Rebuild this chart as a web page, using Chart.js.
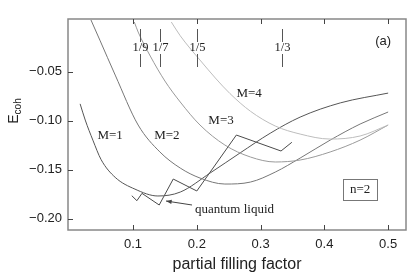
<!DOCTYPE html>
<html>
<head>
<meta charset="utf-8">
<script src="https://cdn.jsdelivr.net/npm/chart.js@4.4.0/dist/chart.umd.min.js"></script>
<style>
  html, body { margin: 0; padding: 0; background: #fff; }
</style>
</head>
<body>
<canvas id="chart" width="412" height="273"></canvas>
<script>
// cohesive energy vs partial filling factor, n=2

var m1X = [0.017, 0.025, 0.037, 0.05, 0.072, 0.103, 0.139, 0.174, 0.221, 0.268, 0.315, 0.362, 0.425, 0.5];
var m1Y = [-0.083, -0.0995, -0.12, -0.14, -0.158, -0.17, -0.177, -0.173, -0.1535, -0.133, -0.113, -0.0965, -0.082, -0.072];

var m2X = [0.034, 0.048, 0.072, 0.108, 0.142, 0.174, 0.205, 0.244, 0.284, 0.323, 0.362, 0.409, 0.456, 0.5];
var m2Y = [0.0026, -0.018, -0.0536, -0.1046, -0.132, -0.1485, -0.1587, -0.1648, -0.1628, -0.1526, -0.1383, -0.12, -0.1036, -0.0913];

var m3X = [0.102, 0.108, 0.127, 0.15, 0.174, 0.205, 0.244, 0.284, 0.323, 0.362, 0.409, 0.456, 0.5];
var m3Y = [0.0005, -0.0097, -0.0342, -0.0597, -0.0811, -0.1046, -0.125, -0.1372, -0.1423, -0.1403, -0.1321, -0.12, -0.1046];

var m4X = [0.16, 0.174, 0.189, 0.205, 0.229, 0.252, 0.284, 0.323, 0.362, 0.409, 0.456, 0.5];
var m4Y = [0.0005, -0.0135, -0.026, -0.0383, -0.0566, -0.0725, -0.0905, -0.1056, -0.1138, -0.1189, -0.1158, -0.1046];

var liquidX = [0.098, 0.106, 0.114, 0.141, 0.163, 0.2, 0.262, 0.332, 0.349];
var liquidY = [-0.1767, -0.1818, -0.1743, -0.1862, -0.1597, -0.1719, -0.1148, -0.1311, -0.1222];

var xTicks = [0.1, 0.2, 0.3, 0.4, 0.5];
var yTicks = [-0.05, -0.10, -0.15, -0.20];

var fracValues = [1 / 9, 1 / 7, 1 / 5, 1 / 3];
var fracLabels = ['1/9', '1/7', '1/5', '1/3'];

var SANS = '"Liberation Sans", Arial, sans-serif';
var SERIF = '"Liberation Serif", "Times New Roman", serif';

function pts(xs, ys) {
    return xs.map(function (x, i) { return { x: x, y: ys[i] }; });
}

function curve(label, xs, ys, color, smooth) {
    return {
        label: label,
        data: pts(xs, ys),
        showLine: true,
        borderColor: color,
        borderWidth: 1,
        pointRadius: 0,
        fill: false,
        cubicInterpolationMode: smooth ? 'monotone' : 'default',
        tension: 0
    };
}

// text in the plot, placed in data units
var notes = [
    { text: 'M=1', x: 0.064, y: -0.1158 },
    { text: 'M=2', x: 0.153, y: -0.1158 },
    { text: 'M=3', x: 0.238, y: -0.1005 },
    { text: 'M=4', x: 0.282, y: -0.073 }
];

var extras = {
    id: 'extras',
    afterDraw: function (chart) {
        var c = chart.ctx, a = chart.chartArea;
        var xs = chart.scales.x, ys = chart.scales.y;
        c.save();

        // frame
        c.strokeStyle = '#888';
        c.lineWidth = 1.5;
        c.strokeRect(a.left, a.top, a.right - a.left, a.bottom - a.top);

        // inward ticks
        c.strokeStyle = '#444';
        c.lineWidth = 1;
        c.beginPath();
        xTicks.forEach(function (v) {
            var px = Math.round(xs.getPixelForValue(v)) + 0.5;
            c.moveTo(px, a.bottom); c.lineTo(px, a.bottom - 5);
            c.moveTo(px, a.top); c.lineTo(px, a.top + 5);
        });
        yTicks.forEach(function (v) {
            var py = Math.round(ys.getPixelForValue(v)) + 0.5;
            c.moveTo(a.left, py); c.lineTo(a.left + 5, py);
        });
        c.stroke();

        // fraction marks
        c.strokeStyle = '#555';
        c.fillStyle = '#222';
        c.font = '12.5px ' + SERIF;
        c.textAlign = 'center';
        c.textBaseline = 'middle';
        fracValues.forEach(function (v, i) {
            var px = Math.round(xs.getPixelForValue(v)) + 0.5;
            c.beginPath();
            c.moveTo(px, a.top + 10); c.lineTo(px, a.top + 23);
            c.moveTo(px, a.top + 35); c.lineTo(px, a.top + 48);
            c.stroke();
            c.fillText(fracLabels[i], px, a.top + 29);
        });

        // M labels
        c.font = '13px ' + SERIF;
        notes.forEach(function (n) {
            c.fillText(n.text, xs.getPixelForValue(n.x), ys.getPixelForValue(n.y));
        });

        // quantum liquid + arrow
        c.textAlign = 'left';
        c.textBaseline = 'alphabetic';
        c.fillText('quantum liquid', xs.getPixelForValue(0.197), ys.getPixelForValue(-0.1945));
        var ax0 = xs.getPixelForValue(0.1925), ay0 = ys.getPixelForValue(-0.1862);
        var ax1 = xs.getPixelForValue(0.1517), ay1 = ys.getPixelForValue(-0.1821);
        c.strokeStyle = '#444';
        c.beginPath(); c.moveTo(ax0, ay0); c.lineTo(ax1, ay1); c.stroke();
        var ang = Math.atan2(ay1 - ay0, ax1 - ax0);
        c.fillStyle = '#444';
        c.beginPath();
        c.moveTo(ax1, ay1);
        c.lineTo(ax1 - 6 * Math.cos(ang - 0.35), ay1 - 6 * Math.sin(ang - 0.35));
        c.lineTo(ax1 - 6 * Math.cos(ang + 0.35), ay1 - 6 * Math.sin(ang + 0.35));
        c.closePath();
        c.fill();

        // n=2 box
        var bx = xs.getPixelForValue(0.4561), by = ys.getPixelForValue(-0.1699);
        c.strokeStyle = '#777';
        c.strokeRect(Math.round(bx - 17) + 0.5, Math.round(by - 10) + 0.5, 34, 21);
        c.fillStyle = '#222';
        c.textAlign = 'center';
        c.textBaseline = 'middle';
        c.fillText('n=2', bx, by + 1);

        // panel tag
        c.font = '13px ' + SANS;
        c.fillText('(a)', xs.getPixelForValue(0.4921), ys.getPixelForValue(-0.0189));

        // y title with subscript
        c.translate(13, 111);
        c.rotate(-Math.PI / 2);
        c.textAlign = 'left';
        c.textBaseline = 'alphabetic';
        c.font = '14px ' + SANS;
        var wE = c.measureText('E').width;
        c.font = '10px ' + SANS;
        var wS = c.measureText('coh').width;
        var s = -(wE + wS) / 2;
        c.font = '14px ' + SANS;
        c.fillText('E', s, 5);
        c.font = '10px ' + SANS;
        c.fillText('coh', s + wE, 8);

        c.restore();
    }
};

var ctx = document.getElementById('chart').getContext('2d');
var chart = new Chart(ctx, {
    type: 'scatter',
    data: {
        datasets: [
            curve('M=4', m4X, m4Y, '#bdbdbd', true),
            curve('M=3', m3X, m3Y, '#9a9a9a', true),
            curve('M=2', m2X, m2Y, '#777777', true),
            curve('M=1', m1X, m1Y, '#555555', true),
            curve('quantum liquid', liquidX, liquidY, '#4a4a4a', false)
        ]
    },
    options: {
        responsive: false,
        animation: false,
        layout: { padding: { top: 19, right: 6, left: 0, bottom: 0 } },
        plugins: { legend: { display: false }, tooltip: { enabled: false } },
        scales: {
            x: {
                type: 'linear',
                min: -0.002,
                max: 0.528,
                grid: { display: false, drawTicks: false },
                border: { display: false },
                afterBuildTicks: function (s) { s.ticks = xTicks.map(function (v) { return { value: v }; }); },
                afterFit: function (s) { s.height = 43; },
                ticks: {
                    padding: 7,
                    color: '#222',
                    font: { family: SANS, size: 13 },
                    callback: function (v) { return v.toFixed(1); }
                },
                title: {
                    display: true,
                    text: 'partial filling factor',
                    color: '#222',
                    font: { family: SANS, size: 16, lineHeight: 1 },
                    padding: { top: 0, bottom: 0 }
                }
            },
            y: {
                type: 'linear',
                min: -0.2117,
                max: 0.0036,
                grid: { display: false, drawTicks: false },
                border: { display: false },
                afterBuildTicks: function (s) { s.ticks = yTicks.map(function (v) { return { value: v }; }); },
                afterFit: function (s) { s.width = 68; },
                ticks: {
                    padding: 6,
                    color: '#222',
                    font: { family: SANS, size: 13 },
                    callback: function (v) { return '\u2212' + Math.abs(v).toFixed(2); }
                }
            }
        }
    },
    plugins: [extras]
});
</script>
</body>
</html>
